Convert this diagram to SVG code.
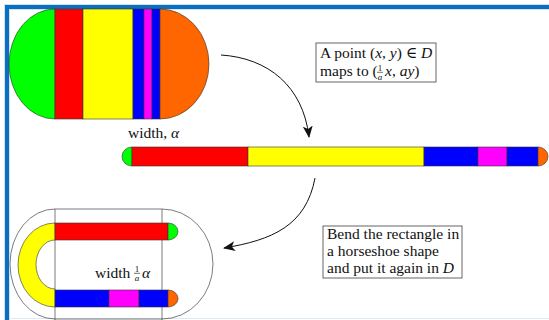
<svg xmlns="http://www.w3.org/2000/svg" width="549" height="320" viewBox="0 0 549 320">
<style>
  text{font-family:'Liberation Serif','DejaVu Serif','Times New Roman',serif}
  .t{font-size:15.5px;fill:#111}
  .it{font-style:italic}
  .sm{font-size:9px;fill:#111}
  .seg{stroke:#333;stroke-width:0.6}
  .g{fill:#00ff00}.r{fill:#ff0000}.y{fill:#ffff00}.b{fill:#0000ff}.m{fill:#ff00ff}.o{fill:#ff6600}
  .box{fill:#fff;stroke:#555;stroke-width:0.9}
  .thin{fill:none;stroke:#444;stroke-width:0.7}
  .conn{fill:none;stroke:#111;stroke-width:1}
</style>
<defs>
  <marker id="ah" viewBox="0 0 12 10" refX="11" refY="5" markerWidth="12" markerHeight="10" markerUnits="userSpaceOnUse" orient="auto">
    <path d="M0,0 L12,5 L0,10 L3,5 Z" fill="#111"/>
  </marker>
</defs>
<rect x="0" y="0" width="549" height="320" fill="#fff"/>
<g id="frame">
  <rect x="4" y="4" width="545" height="6" fill="#cfe2f3"/>
  <rect x="4" y="4" width="6" height="316" fill="#cfe2f3"/>
  <rect x="5" y="5" width="544" height="4" fill="#0b6fbf"/>
  <rect x="5" y="5" width="4" height="315" fill="#0b6fbf"/>
  <line x1="9" y1="318.5" x2="549" y2="318.5" stroke="#dbe9f5" stroke-width="1"/>
</g>
<g id="domain-top">
  <path class="seg g" d="M55,9 A46,55 0 0 0 55,119 Z"/>
  <rect class="seg r" x="55" y="9" width="28" height="110"/>
  <rect class="seg y" x="83" y="9" width="50" height="110"/>
  <rect class="seg b" x="133" y="9" width="11" height="110"/>
  <rect class="seg m" x="144" y="9" width="8" height="110"/>
  <rect class="seg b" x="152" y="9" width="8" height="110"/>
  <path class="seg o" d="M160,9 A49,55 0 0 1 160,119 Z"/>
  <text class="t" x="128" y="138">width, <tspan class="it">α</tspan></text>
</g>
<g id="strip">
  <path class="seg g" d="M132,147 A10,9.5 0 0 0 132,166 Z"/>
  <rect class="seg r" x="132" y="147" width="116" height="19"/>
  <rect class="seg y" x="248" y="147" width="176" height="19"/>
  <rect class="seg b" x="424" y="147" width="54" height="19"/>
  <rect class="seg m" x="478" y="147" width="29" height="19"/>
  <rect class="seg b" x="507" y="147" width="31" height="19"/>
  <path class="seg o" d="M538,147 A10,9.5 0 0 1 538,166 Z"/>
</g>
<g id="label-map">
  <rect class="box" x="316" y="43" width="120" height="39"/>
  <text class="t" x="320" y="58">A point (<tspan class="it">x</tspan>, <tspan class="it">y</tspan>) ∈ <tspan class="it">D</tspan></text>
  <text class="t" x="320" y="76">maps to (</text>
  <text class="sm" x="380" y="70.5" text-anchor="middle">1</text>
  <line x1="377" y1="72.3" x2="383" y2="72.3" stroke="#111" stroke-width="0.6"/>
  <text class="sm it" x="380" y="79.5" text-anchor="middle">a</text>
  <text class="t" x="385" y="76"><tspan class="it">x</tspan>, <tspan class="it">ay</tspan>)</text>
</g>
<g id="label-bend">
  <rect class="box" x="323" y="226" width="139" height="52"/>
  <text class="t" x="327" y="239">Bend the rectangle in</text>
  <text class="t" x="327" y="256">a horseshoe shape</text>
  <text class="t" x="327" y="273">and put it again in <tspan class="it">D</tspan></text>
</g>
<g id="domain-bottom">
  <path class="thin" d="M55,209 L162,209 A51,55 0 0 1 162,319 L55,319 A45,55 0 0 1 55,209 Z"/>
  <line class="thin" x1="55" y1="209" x2="55" y2="320"/>
  <line class="thin" x1="162" y1="209" x2="162" y2="320"/>
  <path class="seg y" d="M55,223 A37,42 0 0 0 55,307 L55,289 A19,24.5 0 0 1 55,240 Z"/>
  <rect class="seg r" x="55" y="223" width="113" height="17"/>
  <path class="seg g" d="M168,223 A10,8.5 0 0 1 168,240 Z"/>
  <rect class="seg b" x="55" y="290" width="54" height="17"/>
  <rect class="seg m" x="109" y="290" width="30" height="17"/>
  <rect class="seg b" x="139" y="290" width="29" height="17"/>
  <path class="seg o" d="M168,290 A10,8.5 0 0 1 168,307 Z"/>
  <text class="t" x="95" y="278">width</text>
  <text class="sm" x="137" y="271.5" text-anchor="middle">1</text>
  <line x1="134" y1="273.3" x2="140" y2="273.3" stroke="#111" stroke-width="0.6"/>
  <text class="sm it" x="137" y="280.5" text-anchor="middle">a</text>
  <text class="t it" x="142" y="278">α</text>
</g>
<g id="connectors">
  <path class="conn" d="M221,55 C268,58 303,86 309,137" marker-end="url(#ah)"/>
  <path class="conn" d="M315,178 C306,226 272,240 224,248" marker-end="url(#ah)"/>
</g>
</svg>
